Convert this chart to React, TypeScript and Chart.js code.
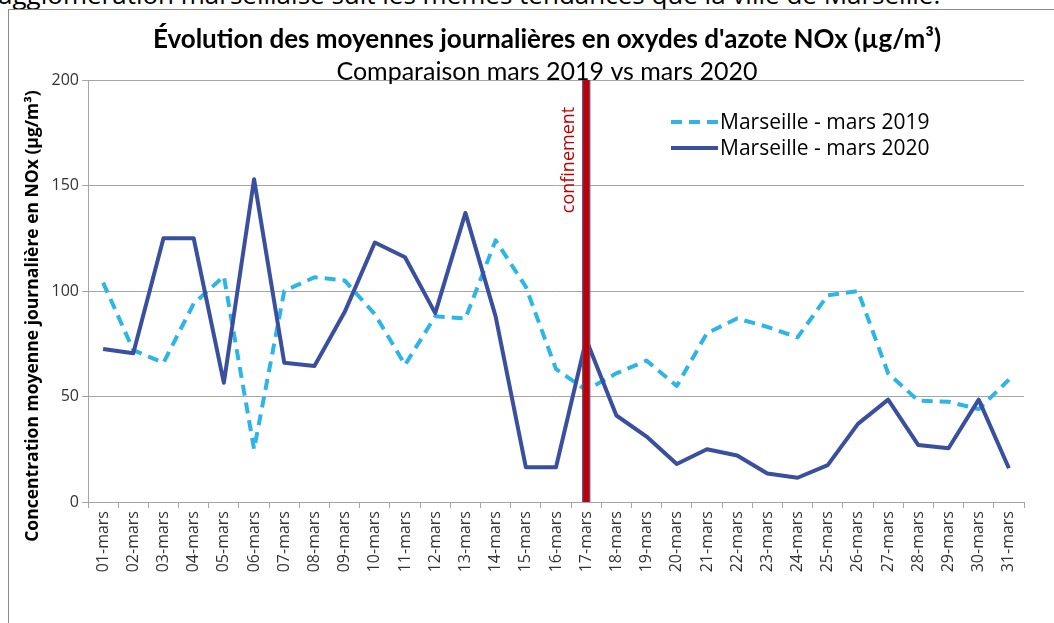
import React, { useEffect, useRef } from 'react';
import { Chart, registerables } from 'chart.js';

Chart.register(...registerables);

const days = [
  '01-mars', '02-mars', '03-mars', '04-mars', '05-mars', '06-mars', '07-mars', '08-mars',
  '09-mars', '10-mars', '11-mars', '12-mars', '13-mars', '14-mars', '15-mars', '16-mars',
  '17-mars', '18-mars', '19-mars', '20-mars', '21-mars', '22-mars', '23-mars', '24-mars',
  '25-mars', '26-mars', '27-mars', '28-mars', '29-mars', '30-mars', '31-mars',
];

const nox2019 = [
  104, 72, 66, 94, 107, 25, 100, 106.5, 105, 89, 65, 88, 87, 124, 102, 63,
  53, 61, 67, 55, 80, 87, 83, 78, 98, 100, 61, 48, 47.5, 44, 58,
];

const nox2020 = [
  72.5, 70.5, 125, 125, 56.5, 153, 66, 64.5, 90, 123, 116, 89.5, 137, 88, 16.5, 16.5,
  77, 41, 31, 18, 25, 22, 13.5, 11.5, 17.5, 37, 48.5, 27, 25.5, 48.5, 16,
];

const seriesLabels = ['Marseille - mars 2019', 'Marseille - mars 2020'];
const yMin = 0;
const yMax = 200;
const yStep = 50;
const confinementDay = '17-mars';
const confinementLabel = 'confinement';
const titleText = "Évolution des moyennes journalières en oxydes d'azote NOx (µg/m³)";
const subtitleText = 'Comparaison mars 2019 vs mars 2020';
const yTitleText = 'Concentration moyenne journalière en NOx (µg/m³)';
const pageTextAbove = 'agglomération marseillaise suit les mêmes tendances que la ville de Marseille.';

const COLOR_2019 = '#2CB5E6';
const COLOR_2020 = '#3A4F9E';
const GRID = '#a6a6a6';

const overlayPlugin = {
  id: 'overlay',
  afterDatasetsDraw(chart: any) {
    const { ctx, chartArea, scales } = chart;
    const x = scales.x.getPixelForValue(days.indexOf(confinementDay));
    ctx.save();
    // confinement bar
    ctx.fillStyle = '#C00000';
    ctx.fillRect(x - 4, chartArea.top, 8, chartArea.bottom - chartArea.top);
    ctx.strokeStyle = '#4A5FA8';
    ctx.lineWidth = 1;
    ctx.beginPath();
    ctx.moveTo(x - 3.5, chartArea.top);
    ctx.lineTo(x - 3.5, chartArea.bottom);
    ctx.moveTo(x + 3.5, chartArea.top);
    ctx.lineTo(x + 3.5, chartArea.bottom);
    ctx.stroke();
    ctx.restore();

    // confinement label
    ctx.save();
    ctx.translate(x - 12, chartArea.top + 80);
    ctx.rotate(-Math.PI / 2);
    ctx.font = '18px "Open Sans"';
    ctx.fillStyle = '#C00000';
    ctx.textAlign = 'center';
    ctx.textBaseline = 'alphabetic';
    ctx.fillText(confinementLabel, 0, 0);
    ctx.restore();

    // legend
    const lx = chartArea.right - 353;
    const ly = chartArea.top + 42;
    chart.data.datasets.forEach((ds: any, i: number) => {
      const y = ly + i * 26;
      ctx.save();
      ctx.strokeStyle = ds.borderColor;
      ctx.lineWidth = 4;
      ctx.setLineDash(ds.borderDash || []);
      ctx.beginPath();
      ctx.moveTo(lx, y);
      ctx.lineTo(lx + 47, y);
      ctx.stroke();
      ctx.setLineDash([]);
      ctx.font = '21px "Open Sans"';
      ctx.fillStyle = '#000';
      ctx.textAlign = 'left';
      ctx.textBaseline = 'middle';
      ctx.fillText(ds.label, lx + 49, y + 1);
      ctx.restore();
    });
  },
  afterDraw(chart: any) {
    const { ctx, chartArea } = chart;
    ctx.save();
    ctx.translate(24, chartArea.top + 236);
    ctx.rotate(-Math.PI / 2);
    ctx.font = 'bold 17.5px "Open Sans"';
    ctx.fillStyle = '#000';
    ctx.textAlign = 'center';
    ctx.textBaseline = 'middle';
    ctx.fillText(yTitleText, 0, 0);
    ctx.restore();
  },
};

export default function App() {
  const canvasRef = useRef<HTMLCanvasElement | null>(null);

  useEffect(() => {
    if (!canvasRef.current) return;
    const chart = new Chart(canvasRef.current, {
      type: 'line',
      data: {
        labels: days,
        datasets: [
          {
            label: seriesLabels[0],
            data: nox2019,
            borderColor: COLOR_2019,
            backgroundColor: COLOR_2019,
            borderWidth: 4,
            borderDash: [11, 7],
            borderJoinStyle: 'round',
            pointRadius: 0,
            tension: 0,
            fill: false,
            order: 2,
          },
          {
            label: seriesLabels[1],
            data: nox2020,
            borderColor: COLOR_2020,
            backgroundColor: COLOR_2020,
            borderWidth: 4,
            borderJoinStyle: 'round',
            pointRadius: 0,
            tension: 0,
            fill: false,
            order: 1,
          },
        ],
      },
      options: {
        animation: false,
        responsive: true,
        maintainAspectRatio: false,
        layout: { padding: { left: 0, right: 0, top: 0, bottom: 0 } },
        plugins: {
          legend: { display: false },
          tooltip: { enabled: false },
          title: {
            display: true,
            text: titleText,
            color: '#000',
            font: { family: 'Lato', size: 26, weight: 'bold', lineHeight: 1.2 },
            padding: { top: 14.4, bottom: 8.9 },
          },
          subtitle: {
            display: true,
            text: subtitleText,
            color: '#000',
            font: { family: 'Lato', size: 25, weight: 'normal', lineHeight: 0.6 },
            padding: { top: 0, bottom: 0.5 },
          },
        },
        scales: {
          x: {
            type: 'category',
            offset: true,
            grid: {
              offset: true,
              drawOnChartArea: false,
              drawTicks: true,
              tickLength: 6,
              color: GRID,
            },
            border: { display: true, color: GRID },
            ticks: {
              autoSkip: false,
              maxRotation: 90,
              minRotation: 90,
              padding: 3,
              color: '#333',
              font: { family: 'Open Sans', size: 16 },
            },
            afterFit(scale: any) {
              scale.height = 121;
            },
          },
          y: {
            min: yMin,
            max: yMax,
            grid: { color: GRID, tickLength: 6, drawTicks: true },
            border: { display: true, color: GRID },
            ticks: {
              stepSize: yStep,
              padding: 3,
              color: '#333',
              font: { family: 'Open Sans', size: 16 },
            },
            afterFit(scale: any) {
              scale.width = 79;
            },
          },
          yRightSpace: {
            type: 'linear',
            position: 'right',
            min: yMin,
            max: yMax,
            display: true,
            grid: { display: false, drawTicks: false },
            border: { display: false },
            ticks: { display: false },
            afterFit(scale: any) {
              scale.width = 61;
            },
          },
        },
      },
      plugins: [overlayPlugin],
    } as any);
    return () => chart.destroy();
  }, []);

  return (
    <div
      style={{
        position: 'fixed',
        left: 0,
        top: 0,
        width: 1054,
        height: 623,
        overflow: 'hidden',
        background: '#fff',
      }}
    >
      <div
        style={{
          position: 'absolute',
          left: -2,
          top: -19,
          fontFamily: '"Open Sans"',
          fontSize: 26,
          lineHeight: '26px',
          whiteSpace: 'nowrap',
          color: '#000',
        }}
      >
        {pageTextAbove}
      </div>
      <div
        style={{
          position: 'absolute',
          left: 8,
          top: 9,
          width: 1100,
          height: 700,
          borderLeft: '1px solid #8c8c8c',
          borderTop: '1px solid #8c8c8c',
        }}
      />
      <div style={{ position: 'absolute', left: 9, top: 10, width: 1076, height: 613 }}>
        <canvas ref={canvasRef} />
      </div>
    </div>
  );
}
